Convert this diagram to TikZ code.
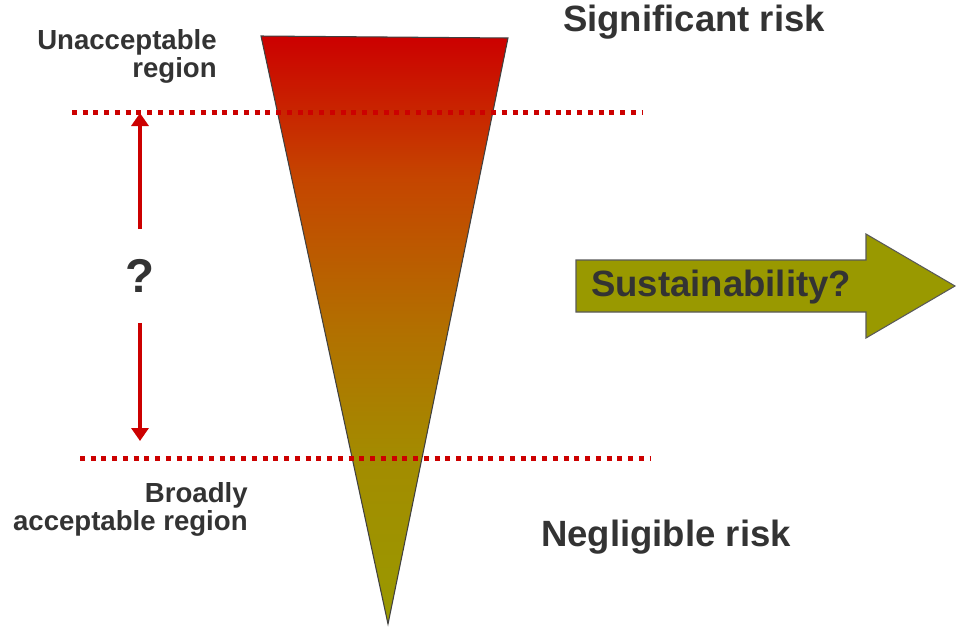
\documentclass[tikz,border=0pt]{standalone}
\usepackage{fontspec}
\setmainfont{Liberation Sans}
\usetikzlibrary{arrows.meta}
\definecolor{riskred}{HTML}{CC0000}
\definecolor{riskrust}{HTML}{C54500}
\definecolor{riskorange}{HTML}{B27000}
\definecolor{riskamber}{HTML}{A38C00}
\definecolor{riskolive}{HTML}{999900}
\definecolor{inkgray}{HTML}{333333}
\pgfdeclareverticalshading{funnelshade}{100bp}{color(0bp)=(riskolive); color(25bp)=(riskolive);
  color(39bp)=(riskamber); color(50bp)=(riskorange); color(63bp)=(riskrust); color(75bp)=(riskred); color(100bp)=(riskred)}
\tikzstyle{limitline} = [draw=riskred,line width=0.1cm,dash pattern=on 0.1cm off 0.115cm]
\tikzstyle{rangearrow} = [draw=riskred,line width=0.08cm,-{Triangle[width=0.34cm,length=0.26cm]}]
\tikzstyle{risktext} = [text=inkgray,font=\fontsize{20.8}{24}\selectfont\bfseries,inner sep=0pt]
\tikzstyle{regiontext} = [text=inkgray,font=\fontsize{15.7}{16}\selectfont\bfseries,align=right,inner sep=0pt]

\begin{document}
\begin{tikzpicture}[x=0.02cm,y=-0.02cm]
  \useasboundingbox (0,0) rectangle (956,626);
  % risk funnel
  \path[shading=funnelshade, draw=darkgray, line width=0.6pt]
    (261,36) -- (508,38) -- (388,624) -- cycle;
  % region limits
  \path[limitline] (72,112) -- (642,112);
  \path[limitline] (80,458) -- (650,458);
  \coordinate (upper) at (140,113);
  \coordinate (lower) at (140,441);
  \node[text=inkgray, font=\fontsize{27}{27}\selectfont\bfseries, inner sep=0pt, minimum height=1.86cm] (query) at (140,276) {?};
  \path[rangearrow] (query.north) -- (upper);
  \path[rangearrow] (query.south) -- (lower);
  % labels
  \node[regiontext, anchor=east] (unacc) at (217,56) {Unacceptable\\region};
  \node[regiontext, anchor=east] (broad) at (248,509) {Broadly\\acceptable region};
  \node[risktext] (sig) at (694,22) {Significant risk};
  \node[risktext] (negl) at (666,537) {Negligible risk};
  % direction arrow
  \path[fill=riskolive, draw=gray!70!black, line width=0.6pt]
    (576,260) -- (866,260) -- (866,234) -- (955,286) -- (866,338) -- (866,312) -- (576,312) -- cycle;
  \node[risktext] (sust) at (721,287) {Sustainability?};
\end{tikzpicture}
\end{document}
